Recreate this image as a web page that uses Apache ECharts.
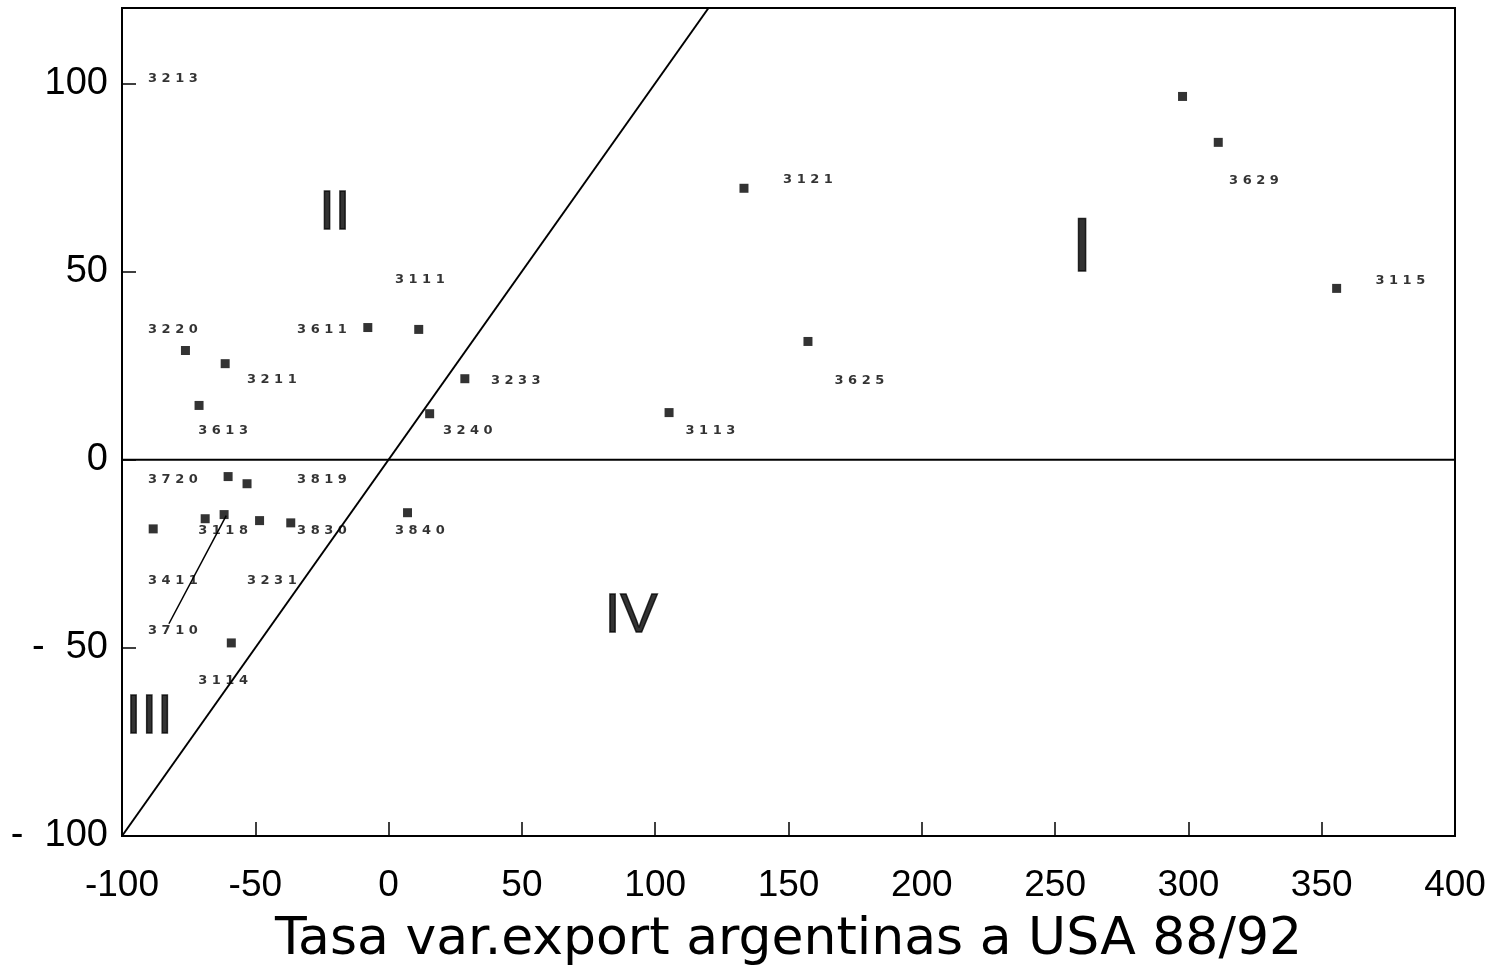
<!DOCTYPE html>
<html>
<head>
<meta charset="utf-8">
<script src="https://cdn.jsdelivr.net/npm/echarts@6/dist/echarts.min.js"></script>
<style>html,body{margin:0;padding:0;background:#fff;}#c{width:1509px;height:968px;}</style>
</head>
<body>
<div id="c"></div>
<script>
// Data points: [x (export growth Argentina->USA 88/92), y]
var points = [
  [297.8, 96.5], [311.2, 84.3], [133.3, 72.1], [355.6, 45.5], [157.3, 31.4],
  [105.2, 12.5], [-7.8, 35.1], [11.3, 34.6], [28.6, 21.5], [15.4, 12.2],
  [-76.2, 29.0], [-61.3, 25.5], [-71.1, 14.4], [-60.2, -4.5], [-53.1, -6.4],
  [-88.3, -18.4], [-68.8, -15.7], [-61.7, -14.6], [-48.4, -16.2], [-36.7, -16.8],
  [7.1, -14.1], [-59.0, -48.7]
];
// Code labels and their anchor in data units
var codes = ['3213','3121','3629','3115','3111','3220','3611','3211','3233','3613','3240',
             '3113','3625','3720','3819','3118','3830','3840','3411','3231','3710','3114'];
var codeX = [-80.9, 157.3, 324.6, 379.5, 11.7, -80.9, -25.0, -43.8, 47.7, -62.1, 29.7,
             120.7, 176.6, -80.9, -25.0, -62.1, -25.0, 11.7, -80.9, -43.8, -80.9, -62.1];
var codeY = [101.3, 74.5, 74.2, 47.6, 47.9, 34.6, 34.6, 21.3, 21.0, 7.7, 7.7,
             7.7, 21.0, -5.3, -5.3, -18.9, -18.9, -18.9, -32.2, -32.2, -45.5, -58.8];
// Quadrant names and anchors
var quadNames = ['I', 'II', 'III', 'IV'];
var quadX = [260.1, -20.2, -89.8, 91.0];
var quadY = [55.8, 65.5, -68.6, -41.8];
// Reference lines
var diagonal = [[-100, -100], [120, 120]];
var zeroLine = [[-100, 0], [400, 0]];
var leader = [[-82.4, -43.6], [-60.9, -14.9]];
var xTitle = 'Tasa var.export argentinas a USA 88/92';

var codeData = codes.map(function (c, i) { return { value: [codeX[i], codeY[i]], name: c }; });
var quadData = quadNames.map(function (q, i) {
  return { value: [quadX[i], quadY[i]], name: q, label: { fontSize: q === 'I' ? 76 : 56 } };
});

var font = 'Liberation Sans, Arial, sans-serif';
var chart = echarts.init(document.getElementById('c'));
chart.setOption({
  animation: false,
  backgroundColor: '#fff',
  grid: { left: 122, right: 54, top: 8, bottom: 132, containLabel: false, outerBoundsMode: 'none',
          show: true, borderColor: '#000', borderWidth: 2 },
  xAxis: {
    type: 'value', min: -100, max: 400, interval: 50,
    axisLine: { onZero: false, lineStyle: { color: '#000', width: 2 } },
    axisTick: { inside: true, length: 14, lineStyle: { color: '#000', width: 1.5 } },
    splitLine: { show: false },
    axisLabel: { color: '#000', fontSize: 37, fontFamily: font, margin: 31 },
    name: xTitle, nameLocation: 'middle', nameGap: 78,
    nameTextStyle: { color: '#000', fontSize: 52, fontFamily: 'DejaVu Sans, sans-serif' }
  },
  yAxis: {
    type: 'value', min: -100, max: 120, interval: 50,
    axisLine: { onZero: false, lineStyle: { color: '#000', width: 2 } },
    axisTick: { inside: true, length: 14, lineStyle: { color: '#000', width: 1.5 } },
    splitLine: { show: false },
    axisLabel: {
      color: '#000', fontSize: 38, fontFamily: font, margin: 14,
      formatter: function (v) { if (v > 100) return ''; return v < 0 ? '-  ' + Math.abs(v) : String(v); }
    }
  },
  series: [
    { type: 'line', data: diagonal, symbol: 'none', lineStyle: { color: '#000', width: 2 }, silent: true },
    { type: 'line', data: zeroLine, symbol: 'none', lineStyle: { color: '#000', width: 2 }, silent: true },
    { type: 'line', data: leader, symbol: 'none', lineStyle: { color: '#000', width: 1.5 }, silent: true },
    { type: 'scatter', data: points, symbol: 'rect', symbolSize: 9,
      itemStyle: { color: '#000' } },
    { type: 'scatter', data: codeData, symbolSize: 0,
      label: { show: true, position: 'inside', color: '#000', fontSize: 13, fontWeight: 'bold',
        fontFamily: 'DejaVu Sans, sans-serif',
        formatter: function (p) { return p.name.split('').join(' '); } } },
    { type: 'scatter', data: quadData, symbolSize: 0,
      label: { show: true, position: 'inside', color: '#000', fontSize: 56, fontFamily: font,
        textBorderColor: '#000', textBorderWidth: 1.5,
        formatter: function (p) { return p.name; } } }
  ]
});
</script>
</body>
</html>
